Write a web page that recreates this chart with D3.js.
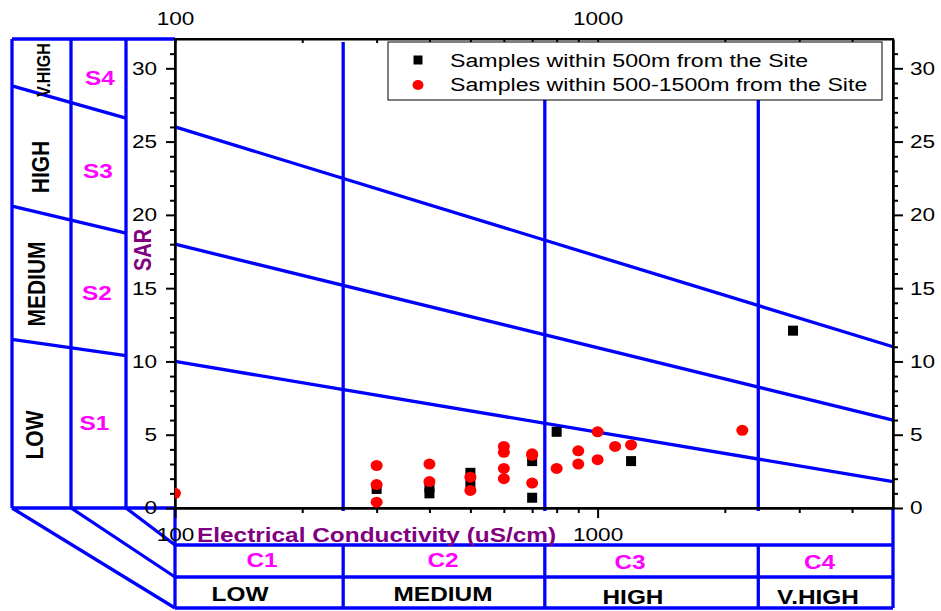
<!DOCTYPE html>
<html>
<head>
<meta charset="utf-8">
<script src="https://cdn.jsdelivr.net/npm/d3@7"></script>
<style>
  body { margin: 0; background: #fff; }
  text { font-family: "Liberation Sans", Arial, sans-serif; }
</style>
</head>
<body>
<div id="chart"></div>
<script>
// samples within 500m of the site
var nearEC  = [300, 400, 400, 500, 500, 700, 700, 800, 1200, 2900];
var nearSAR = [1.3, 1.4, 1.0, 2.4, 1.7, 3.2, 0.7, 5.2, 3.2, 12.1];
// samples within 500-1500m of the site
var farEC  = [100, 300, 300, 300, 400, 400, 500, 500, 600, 600, 600, 600, 700, 700, 700, 800, 900, 900, 1000, 1000, 1100, 1200, 2200];
var farSAR = [1.0, 2.9, 1.6, 0.4, 3.0, 1.8, 2.1, 1.2, 4.2, 3.8, 2.7, 2.0, 3.7, 3.6, 1.7, 2.7, 3.9, 3.0, 5.2, 3.3, 4.2, 4.3, 5.3];

// sodium hazard boundaries (SAR at EC=100 and EC=5000)
var sarAt100  = [10, 18, 26];
var sarAt5000 = [1.8, 6, 11];
// conductivity class boundaries
var ecBounds = [250, 750, 2400];
// left panel boundaries (SAR at panel left and right edge)
var panelSarLeft  = [11.5, 20.6, 28.8];
var panelSarRight = [10.4, 18.75, 26.6];

var sClasses = ["S1", "S2", "S3", "S4"];
var sNames = ["LOW", "MEDIUM", "HIGH", "V.HIGH"];
var cClasses = ["C1", "C2", "C3", "C4"];
var cNames = ["LOW", "MEDIUM", "HIGH", "V.HIGH"];
var yMajor = [0, 5, 10, 15, 20, 25, 30];
var xMajor = [100, 1000];
var xMinor = [200, 300, 400, 500, 600, 700, 800, 900, 2000, 3000, 4000];
var legendNames = ["Samples within 500m from the Site", "Samples within 500-1500m from the Site"];

var width = 941, height = 611;
var SX = 1.22;
var blue = "#0000ff", magenta = "#ff00ff", purple = "#800080";

var svg = d3.select("#chart").append("svg")
    .attr("width", width).attr("height", height);

var x = d3.scaleLog().domain([100, 5000]).range([175, 893]);
var y = d3.scaleLinear().domain([0, 32]).range([508, 39]);

function label(g, px, py, str, o) {
    o = o || {};
    var t = g.append("text")
        .attr("transform", "translate(" + px + "," + py + ") scale(" + (o.sx || SX) + ",1)" + (o.rot ? " rotate(-90)" : ""))
        .attr("text-anchor", o.anchor || "middle")
        .attr("dy", o.dy == null ? "0.36em" : o.dy)
        .style("font-size", (o.size || 20) + "px")
        .style("font-weight", o.bold ? "bold" : "normal")
        .style("fill", o.color || "#000")
        .text(str);
    return t;
}

// ---- left panel (sodium hazard) ----
var cols = [12, 71, 126];
var panel = svg.append("g").attr("stroke", blue).attr("stroke-width", 3.3).attr("fill", "none");
cols.forEach(function(cx) {
    panel.append("line").attr("x1", cx).attr("x2", cx).attr("y1", y(32)).attr("y2", y(0));
});
panel.append("line").attr("x1", 12).attr("x2", 175).attr("y1", y(32)).attr("y2", y(32));
panel.append("line").attr("x1", 12).attr("x2", 175).attr("y1", y(0)).attr("y2", y(0));
panelSarLeft.forEach(function(s, i) {
    panel.append("line").attr("x1", 12).attr("x2", 126)
        .attr("y1", y(s)).attr("y2", y(panelSarRight[i]));
});
// slanted links to the bottom table
var tableRows = [545, 577, 608];
panel.append("line").attr("x1", 12).attr("y1", y(0)).attr("x2", 175).attr("y2", tableRows[2]);
panel.append("line").attr("x1", 71).attr("y1", y(0)).attr("x2", 175).attr("y2", tableRows[1]);
panel.append("line").attr("x1", 126).attr("y1", y(0)).attr("x2", 175).attr("y2", tableRows[0]);

var sNamePos = [[34, 435, 21], [36, 284, 21], [40, 167, 21], [43, 70, 16]];
sNames.forEach(function(n, i) {
    label(svg, sNamePos[i][0], sNamePos[i][1], n, {rot: true, bold: true, size: sNamePos[i][2], sx: 1.15});
});
var sClassPos = [[94.5, 423], [97, 293], [98, 171], [100, 78]];
sClasses.forEach(function(n, i) {
    label(svg, sClassPos[i][0], sClassPos[i][1], n, {bold: true, color: magenta});
});

// ---- bottom table (salinity hazard) ----
var table = svg.append("g").attr("stroke", blue).attr("stroke-width", 3.3).attr("fill", "none");
tableRows.forEach(function(ty) {
    table.append("line").attr("x1", x(100)).attr("x2", x(5000)).attr("y1", ty).attr("y2", ty);
});
table.append("line").attr("x1", x(100)).attr("x2", x(100)).attr("y1", y(0)).attr("y2", tableRows[2]);
table.append("line").attr("x1", x(5000)).attr("x2", x(5000)).attr("y1", y(0)).attr("y2", tableRows[2]);
ecBounds.forEach(function(b) {
    table.append("line").attr("x1", x(b)).attr("x2", x(b)).attr("y1", tableRows[0]).attr("y2", tableRows[2]);
});
var cPosX = [262, 443, 630, 819.5];
var cNamePosX = [240, 443, 633, 818];
cClasses.forEach(function(n, i) {
    label(svg, cPosX[i], i < 2 ? 560 : 562, n, {bold: true, color: magenta});
    label(svg, cNamePosX[i], i < 2 ? 593.5 : 597, cNames[i], {bold: true});
});

// ---- plot area ----
var plot = svg.append("g").attr("stroke", blue).attr("stroke-width", 3.3).attr("fill", "none");
ecBounds.forEach(function(b) {
    plot.append("line").attr("x1", x(b)).attr("x2", x(b)).attr("y1", y(32) + 3).attr("y2", y(0) + 3);
});
sarAt100.forEach(function(s, i) {
    plot.append("line").attr("x1", x(100)).attr("x2", x(5000))
        .attr("y1", y(s)).attr("y2", y(sarAt5000[i]));
});

// axes
function styleAxis(g) {
    g.selectAll("path, line").attr("stroke", "#000").attr("stroke-width", 2);
    g.selectAll("text").style("font-size", "18.5px").style("font-family", "'Liberation Sans', Arial, sans-serif").attr("fill", "#000");
}
function stretchText(g) {
    g.selectAll("text").each(function() {
        var t = d3.select(this);
        var tx = +t.attr("x") || 0, ty = +t.attr("y") || 0;
        t.attr("x", 0).attr("y", 0).attr("transform", "translate(" + tx + "," + ty + ") scale(" + SX + ",1)");
    });
}
var yMinor = d3.range(1, 32).filter(function(d) { return d % 5 != 0; });

svg.append("g").attr("transform", "translate(175,0)")
    .call(d3.axisLeft(y).tickValues(yMinor).tickSize(5).tickSizeOuter(0).tickFormat(""))
    .call(styleAxis);
svg.append("g").attr("transform", "translate(175,0)")
    .call(d3.axisLeft(y).tickValues(yMajor).tickSize(9).tickPadding(9).tickSizeOuter(0))
    .call(styleAxis).call(stretchText);
svg.append("g").attr("transform", "translate(893,0)")
    .call(d3.axisRight(y).tickValues(yMinor).tickSize(5).tickSizeOuter(0).tickFormat(""))
    .call(styleAxis);
svg.append("g").attr("transform", "translate(893,0)")
    .call(d3.axisRight(y).tickValues(yMajor).tickSize(10).tickPadding(7).tickSizeOuter(0))
    .call(styleAxis).call(stretchText);
svg.append("g").attr("transform", "translate(0,508)")
    .call(d3.axisBottom(x).tickValues(xMinor).tickSize(5).tickSizeOuter(0).tickFormat(""))
    .call(styleAxis);
svg.append("g").attr("transform", "translate(0,508)")
    .call(d3.axisBottom(x).tickValues(xMajor).tickSize(10).tickPadding(10).tickSizeOuter(0).tickFormat(d3.format("d")))
    .call(styleAxis).call(stretchText);
svg.append("g").attr("transform", "translate(0,39)")
    .call(d3.axisTop(x).tickValues(xMinor.concat(xMajor)).tickSize(-4).tickPadding(14).tickSizeOuter(0).tickFormat(function(d) { return xMajor.indexOf(d) >= 0 ? d3.format("d")(d) : ""; }))
    .call(styleAxis).call(stretchText);

svg.append("rect").attr("x", x(100)).attr("y", y(32))
    .attr("width", x(5000) - x(100)).attr("height", y(0) - y(32))
    .attr("fill", "none").attr("stroke", "#000").attr("stroke-width", 2);

label(svg, 197, 535, "Electrical Conductivity (uS/cm)", {anchor: "start", bold: true, color: purple});
label(svg, 143, 250, "SAR", {rot: true, bold: true, color: purple, sx: 1.15});

// markers
svg.append("clipPath").attr("id", "clip").append("rect")
    .attr("x", x(100)).attr("y", y(32)).attr("width", x(5000) - x(100)).attr("height", y(0) - y(32));
var marks = svg.append("g").attr("clip-path", "url(#clip)");
marks.selectAll(".near").data(nearEC).enter().append("rect")
    .attr("class", "near")
    .attr("x", function(d) { return x(d) - 5; })
    .attr("y", function(d, i) { return y(nearSAR[i]) - 5; })
    .attr("width", 10).attr("height", 10)
    .attr("fill", "#000");
marks.selectAll(".far").data(farEC).enter().append("ellipse")
    .attr("class", "far")
    .attr("cx", function(d) { return x(d); })
    .attr("cy", function(d, i) { return y(farSAR[i]); })
    .attr("rx", 6).attr("ry", 5.5)
    .attr("fill", "#ff0000");

// legend
var legend = svg.append("g");
legend.append("rect").attr("x", 388).attr("y", 42).attr("width", 494).attr("height", 58)
    .attr("fill", "#fff").attr("stroke", "#000").attr("stroke-width", 1);
legend.append("rect").attr("x", 413.5).attr("y", 55.5).attr("width", 9).attr("height", 9).attr("fill", "#000");
legend.append("ellipse").attr("cx", 418).attr("cy", 85).attr("rx", 5.5).attr("ry", 5).attr("fill", "#ff0000");
legendNames.forEach(function(n, i) {
    label(legend, 450, i == 0 ? 60 : 84.5, n, {anchor: "start", size: 19});
});
</script>
</body>
</html>
